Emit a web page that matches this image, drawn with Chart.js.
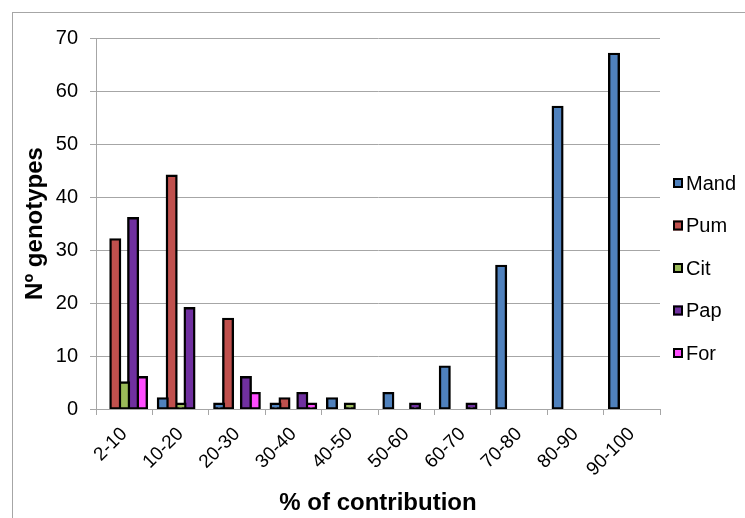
<!DOCTYPE html>
<html>
<head>
<meta charset="utf-8">
<script src="https://cdn.jsdelivr.net/npm/chart.js@4"></script>
<style>
  body { margin: 0; background: #fff; }
  canvas { display: block; }
</style>
</head>
<body>
<canvas id="chart" width="745" height="518"></canvas>
<script>
const categories = ["2-10", "10-20", "20-30", "30-40", "40-50", "50-60", "60-70", "70-80", "80-90", "90-100"];

const mand = [0, 2, 1, 1, 2, 3, 8, 27, 57, 67];
const pum = [32, 44, 17, 2, 0, 0, 0, 0, 0, 0];
const cit = [5, 1, 0, 0, 1, 0, 0, 0, 0, 0];
const pap = [36, 19, 6, 3, 0, 1, 1, 0, 0, 0];
const forValues = [6, 0, 3, 1, 0, 0, 0, 0, 0, 0];

const seriesNames = ["Mand", "Pum", "Cit", "Pap", "For"];
const seriesColors = ["#4f81bd", "#c0504d", "#9bbb59", "#7030a0", "#ff4dff"];

const yTicks = [0, 10, 20, 30, 40, 50, 60, 70];

const FONT = "'Liberation Sans', Arial, sans-serif";
const GRID = "#a6a6a6";

/* outer frame + custom legend on the right */

const frameAndLegend = {
  id: "frameAndLegend",
  beforeDraw(chart) {
    const ctx = chart.ctx;
    ctx.save();
    ctx.strokeStyle = GRID;
    ctx.lineWidth = 1;
    ctx.strokeRect(12.5, 12.5, 900, 700);
    ctx.restore();
  },
  afterDraw(chart) {
    const ctx = chart.ctx;
    ctx.save();
    chart.data.datasets.forEach((ds, i) => {
      const y = 183 + i * 42.5;
      ctx.fillStyle = ds.backgroundColor;
      ctx.fillRect(673, y - 5, 10, 10);
      ctx.strokeStyle = "#000";
      ctx.lineWidth = 2;
      ctx.strokeRect(674, y - 4, 8, 8);
      ctx.fillStyle = "#000";
      ctx.font = "20px " + FONT;
      ctx.textBaseline = "middle";
      ctx.textAlign = "left";
      ctx.fillText(ds.label, 686, y + 1);
    });
    ctx.restore();
  }
};

const allSeries = [mand, pum, cit, pap, forValues];

new Chart(document.getElementById("chart"), {
  type: "bar",
  data: {
    labels: categories,
    datasets: allSeries.map((values, i) => ({
      label: seriesNames[i],
      data: values,
      backgroundColor: seriesColors[i],
      borderColor: "#000",
      borderWidth: 2.4,
      borderSkipped: false,
      // excel centres the outline on the bar edge, so grow the bar a little
      inflateAmount: (c) => (c.raw > 0 ? 1.2 : 0),
      categoryPercentage: 0.79,
      barPercentage: 1.08
    }))
  },
  plugins: [frameAndLegend],
  options: {
    responsive: false,
    animation: false,
    layout: {
      padding: { top: 38, right: 85, left: 0, bottom: 0 }
    },
    plugins: {
      legend: { display: false },
      tooltip: { enabled: false }
    },
    scales: {
      x: {
        afterFit: (s) => { s.height = 109; },
        grid: {
          drawOnChartArea: false,
          drawTicks: true,
          tickLength: 6,
          color: GRID,
          offset: true
        },
        border: { color: GRID, width: 1 },
        ticks: {
          color: "#000",
          font: { family: FONT, size: 19 },
          minRotation: 45,
          maxRotation: 45,
          padding: 8
        },
        title: {
          display: true,
          text: "% of contribution",
          color: "#000",
          font: { family: FONT, size: 24, weight: "bold" },
          padding: { top: 7, bottom: 0 }
        }
      },
      y: {
        min: 0,
        max: 70,
        afterFit: (s) => { s.width = 96; },
        afterBuildTicks: (s) => { s.ticks = yTicks.map((v) => ({ value: v })); },
        grid: {
          color: GRID,
          drawTicks: true,
          tickLength: 6
        },
        border: { color: GRID, width: 1 },
        ticks: {
          color: "#000",
          font: { family: FONT, size: 20 },
          padding: 12
        },
        title: {
          display: true,
          text: "Nº genotypes",
          color: "#000",
          font: { family: FONT, size: 24, weight: "bold" },
          padding: { top: 21, bottom: 0 }
        }
      }
    }
  }
});
</script>
</body>
</html>
